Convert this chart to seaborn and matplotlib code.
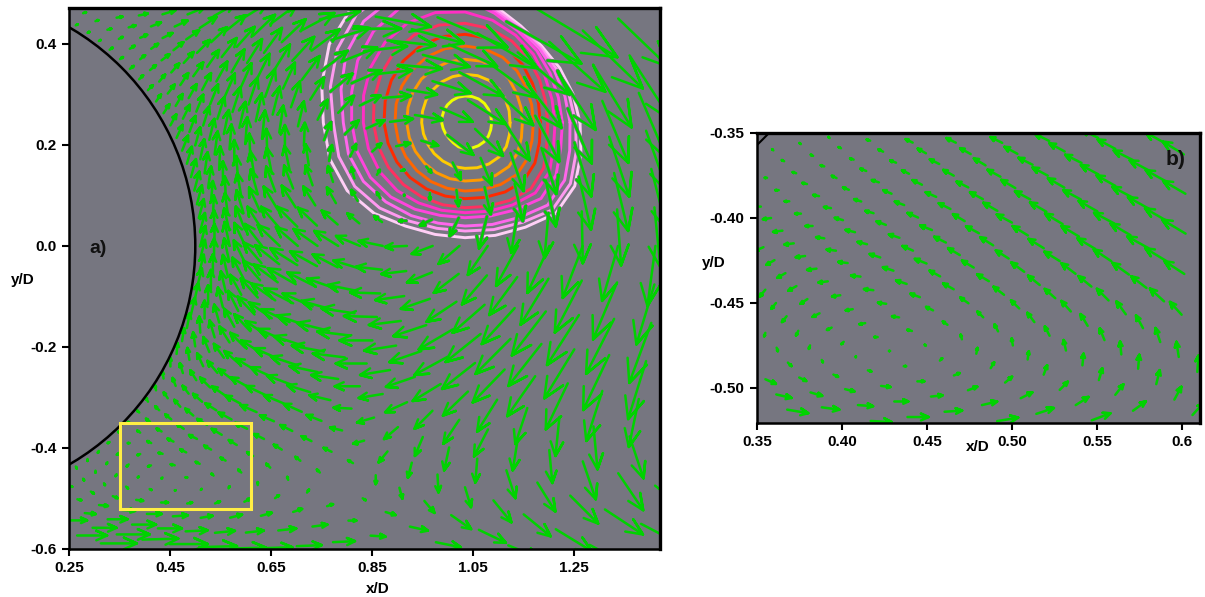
import matplotlib
matplotlib.use('Agg')
import matplotlib.pyplot as plt
import numpy as np
import pandas as pd
import seaborn as sns
from matplotlib.patches import Circle, Rectangle

# polar measurement grid of panel a
radii_a = [.51, .538, .568, .599, .632, .667, .703, .742, .783, .826, .871, .919, .97, 1.023, 1.079, 1.139, 1.201, 1.267, 1.337, 1.411, 1.488]
angles_a = [-65.1, -62, -58.9, -55.8, -52.7, -49.6, -46.5, -43.4, -40.3, -37.2, -34.1, -31, -27.9, -24.8, -21.7, -18.6, -15.5, -12.4, -9.3, -6.2, -3.1,
            0, 3.1, 6.2, 9.3, 12.4, 15.5, 18.6, 21.7, 24.8, 27.9, 31, 34.1, 37.2, 40.3, 43.4, 46.5, 49.6, 52.7, 55.8, 58.9]
first_a = [3, 1] + [0] * 39
# velocity per ray (u, v), one row per angle, arrow length in px
vel_a = [
    [(17, 0), (30, 0)],
    [(2, -1), (4, -1), (11, -1), (24, 0), (36, 0)],
    [(1, -2), (1, -2), (3, -2), (9, -1), (20, 0), (33, 0)],
    [(0, -2), (0, -2), (1, -2), (5, -2), (13, -1), (24, 0), (36, 1)],
    [(-1, -2), (-1, -2), (-1, -2), (2, -2), (7, -1), (15, 0), (24, 0), (38, 0)],
    [(-2, -1), (-2, -2), (-2, -2), (-1, -1), (2, -1), (7, 0), (15, 1), (22, 1), (38, 1)],
    [(-2, 1), (-2, 0), (-3, -1), (-3, -1), (-1, -1), (1, 0), (5, 1), (12, 2), (20, 2), (36, 1)],
    [(-2, 1), (-3, 2), (-4, 2), (-4, 1), (-4, 1), (-2, 0), (1, 1), (5, 2), (12, 3), (18, 2), (30, 1)],
    [(-2, 2), (-4, 3), (-5, 3), (-6, 3), (-6, 3), (-4, 2), (-2, 2), (1, 2), (6, 3), (11, 3), (18, 2), (25, 1)],
    [(-2, 4), (-4, 4), (-6, 5), (-7, 5), (-8, 4), (-7, 4), (-5, 3), (-3, 3), (0, 3), (4, 3), (9, 3), (15, 2), (22, 1)],
    [(-1, 5), (-4, 6), (-6, 7), (-8, 7), (-10, 6), (-10, 6), (-8, 5), (-6, 4), (-4, 4), (-1, 3), (2, 3), (6, 2), (8, 0), (15, -1)],
    [(-1, 7), (-3, 8), (-6, 8), (-9, 8), (-11, 7), (-13, 7), (-12, 6), (-10, 5), (-8, 5), (-5, 4), (-3, 3), (0, 0), (3, -2), (10, -3), (18, -4), (25, -5)],
    [(0, 9), (-3, 10), (-6, 10), (-10, 10), (-13, 9), (-15, 8), (-16, 7), (-14, 6), (-12, 6), (-10, 5), (-8, 4), (-5, 3), (0, -9), (3, -11), (10, -12), (20, -14), (27, -13), (32, -13)],
    [(1, 11), (-2, 12), (-6, 13), (-10, 12), (-14, 11), (-18, 10), (-19, 9), (-19, 8), (-18, 8), (-15, 6), (-12, 3), (-11, -3), (-9, -11), (-4, -15), (1, -18), (6, -20), (18, -22), (27, -22), (36, -22), (40, -22)],
    [(2, 13), (-2, 14), (-6, 15), (-10, 14), (-15, 13), (-20, 12), (-22, 10), (-24, 9), (-23, 7), (-21, 5), (-18, 1), (-17, -5), (-14, -12), (-8, -19), (-5, -23), (-2, -24), (9, -28), (18, -29), (28, -28), (38, -25), (42, -22)],
    [(3, 15), (-1, 16), (-5, 17), (-10, 16), (-15, 15), (-21, 13), (-25, 11), (-27, 9), (-28, 6), (-27, 4), (-25, 0), (-24, -4), (-22, -10), (-18, -18), (-16, -24), (-14, -27), (-5, -31), (3, -33), (13, -38), (25, -37), (38, -30)],
    [(4, 17), (0, 18), (-5, 18), (-10, 18), (-16, 17), (-22, 15), (-27, 12), (-30, 10), (-32, 6), (-32, 4), (-31, 0), (-30, -5), (-29, -10), (-28, -17), (-25, -24), (-20, -32), (-12, -36), (-4, -39), (4, -43), (14, -42)],
    [(4, 18), (0, 19), (-5, 20), (-10, 20), (-17, 18), (-23, 16), (-28, 13), (-32, 11), (-32, 8), (-33, 4), (-33, 0), (-32, -5), (-32, -11), (-33, -18), (-33, -26), (-32, -33), (-28, -40), (-22, -46), (-16, -50), (-10, -48)],
    [(5, 19), (0, 20), (-5, 21), (-11, 20), (-17, 19), (-24, 17), (-29, 15), (-30, 13), (-32, 9), (-33, 5), (-33, 1), (-32, -4), (-33, -11), (-34, -20), (-35, -28), (-35, -35), (-33, -42), (-30, -49), (-26, -55), (-18, -58)],
    [(5, 19), (0, 21), (-5, 22), (-11, 21), (-17, 20), (-24, 18), (-28, 16), (-28, 14), (-29, 10), (-30, 6), (-30, 1), (-29, -4), (-29, -10), (-30, -20), (-32, -28), (-33, -36), (-34, -44), (-32, -50), (-28, -55), (-22, -60)],
    [(5, 20), (0, 22), (-5, 23), (-11, 22), (-18, 21), (-24, 19), (-27, 17), (-27, 15), (-25, 13), (-26, 8), (-26, 3), (-25, -3), (-25, -10), (-25, -19), (-25, -29), (-28, -38), (-28, -46), (-27, -52), (-24, -57), (-18, -60)],
    [(5, 20), (0, 22), (-5, 24), (-11, 23), (-17, 22), (-22, 21), (-22, 19), (-24, 17), (-24, 15), (-24, 10), (-24, 5), (-22, -1), (-21, -8), (-21, -18), (-20, -29), (-22, -40), (-22, -47), (-20, -52), (-16, -55), (-8, -60)],
    [(5, 19), (0, 21), (-5, 22), (-9, 23), (-14, 22), (-18, 21), (-20, 20), (-19, 18), (-16, 14), (-12, 10), (-8, 6), (-7, 0), (-12, -6), (-9, -18), (-8, -32), (-6, -38), (-4, -45), (1, -52), (4, -56), (6, -60)],
    [(5, 19), (1, 21), (-3, 22), (-7, 23), (-11, 24), (-14, 23), (-14, 22), (-12, 19), (-9, 16), (-6, 11), (-3, 6), (0, 1), (0, -7), (2, -16), (6, -27), (8, -37), (10, -46), (12, -53), (14, -58), (16, -62)],
    [(5, 19), (2, 21), (-1, 23), (-4, 24), (-7, 25), (-9, 25), (-9, 23), (-7, 20), (-5, 16), (-3, 11), (3, 5), (4, 1), (5, -6), (8, -17), (11, -27), (13, -38), (15, -46), (17, -54), (20, -60), (22, -62)],
    [(5, 19), (3, 21), (0, 23), (-2, 25), (-4, 26), (-5, 26), (-5, 24), (-3, 21), (3, 16), (6, 12), (9, 8), (14, 3), (17, -5), (26, -20), (28, -27), (25, -38), (24, -46), (24, -55), (26, -62), (28, -66)],
    [(5, 18), (3, 21), (1, 23), (0, 25), (-1, 27), (-1, 27), (0, 26), (1, 23), (7, 18), (14, 14), (18, 8), (23, 3), (28, -5), (32, -14), (38, -24), (36, -33), (34, -44), (36, -55), (38, -62), (42, -65)],
    [(5, 17), (4, 20), (3, 23), (2, 25), (2, 27), (3, 28), (4, 27), (6, 25), (10, 20), (16, 17), (21, 10), (28, 2), (30, -5), (38, -12), (44, -24), (48, -35), (52, -42), (56, -50), (60, -58), (50, -48)],
    [(6, 15), (5, 18), (5, 21), (5, 24), (6, 26), (6, 28), (7, 28), (9, 26), (14, 22), (22, 18), (30, 13), (38, 4), (44, -4), (47, -12), (48, -22), (60, -35), (75, -42), (80, -48)],
    [(6, 13), (6, 16), (6, 19), (7, 22), (8, 25), (9, 27), (10, 28), (12, 26), (18, 24), (26, 20), (35, 14), (43, 5), (48, -5), (52, -14), (70, -30)],
    [(6, 11), (7, 14), (7, 17), (8, 20), (10, 23), (11, 25), (13, 26), (16, 26), (22, 24), (28, 21), (38, 12), (48, 0), (55, -10)],
    [(6, 9), (7, 12), (8, 14), (9, 17), (11, 20), (13, 23), (15, 24), (18, 25), (24, 23), (34, 18), (40, 8), (46, 2)],
    [(5, 7), (7, 9), (8, 12), (10, 14), (12, 17), (15, 19), (18, 20), (22, 21), (27, 20), (33, 18)],
    [(5, 5), (6, 7), (8, 9), (10, 11), (13, 13), (16, 15), (20, 16), (26, 16), (32, 15)],
    [(4, 4), (6, 5), (8, 6), (10, 8), (13, 9), (17, 11), (21, 12)],
    [(4, 3), (5, 4), (7, 5), (10, 5), (13, 6), (17, 7)],
    [(3, 2), (5, 3), (7, 3), (10, 4), (13, 4)],
    [(3, 2), (4, 2), (7, 2), (9, 2)],
    [(2, 1), (4, 1), (6, 1)],
    [(2, 1), (3, 1), (5, 1)],
    [(2, 1), (3, 1)],
]

# panel b is the full resolution grid of the yellow box
radii_b = [.509, .518, .528, .537, .547, .557, .567, .577, .587, .598, .609, .62, .631, .642, .654, .666, .678, .69, .702, .715, .728, .741, .754, .768, .782, .796]
angles_b = [-54.35, -52.8, -51.25, -49.7, -48.15, -46.6, -45.05, -43.5, -41.95, -40.4, -38.85, -37.3, -35.75, -34.2, -32.65, -31.1]
first_b = [10, 8, 6, 4, 2, 0, 0, 1, 2, 4, 6, 8, 10, 12, 14, 16]
vel_b = [
    [(9, -4), (13, -3), (18, -3)],
    [(-1, -3), (1, -3), (3, -3), (6, -3), (10, -3), (15, -2), (20, -2)],
    [(-5, -6), (-4, -5), (-4, -5), (-2, -4), (-1, -3), (1, -2), (4, -2), (8, -2), (13, -1), (18, -1)],
    [(-7, -3), (-7, -4), (-7, -4), (-7, -4), (-6, -4), (-6, -3), (-4, -2), (-2, -2), (0, -1), (3, -1), (8, -1), (12, 0), (18, 0)],
    [(-6, 0), (-7, -1), (-8, -1), (-8, -1), (-8, -1), (-8, -1), (-8, -1), (-7, -1), (-6, -1), (-5, -1), (-3, 0), (-1, 0), (2, 0), (6, 0), (10, 1), (15, 1)],
    [(-2, 1), (-2, 0), (-3, 0), (-4, 0), (-5, 0), (-6, 0), (-7, 1), (-8, 1), (-8, 1), (-8, 1), (-8, 1), (-7, 1), (-6, 1), (-4, 1), (-1, 1), (2, 2), (5, 2), (8, 3), (13, 3), (18, 3)],
    [(-1, 1), (-2, 1), (-3, 1), (-4, 1), (-5, 1), (-6, 1), (-7, 2), (-8, 2), (-8, 2), (-9, 3), (-9, 3), (-9, 3), (-8, 3), (-6, 3), (-4, 3), (-1, 4), (1, 5), (3, 5), (6, 5), (10, 5), (15, 5)],
    [(-1, 1), (-2, 1), (-3, 1), (-4, 2), (-5, 2), (-6, 2), (-7, 2), (-8, 3), (-9, 3), (-9, 4), (-10, 4), (-9, 5), (-9, 5), (-7, 5), (-5, 5), (-3, 6), (-1, 6), (1, 7), (3, 8), (7, 7), (11, 7), (16, 6)],
    [(-1, 1), (-2, 1), (-3, 1), (-5, 2), (-6, 2), (-7, 3), (-8, 3), (-9, 4), (-10, 4), (-10, 5), (-10, 6), (-10, 6), (-10, 6), (-9, 7), (-7, 7), (-6, 8), (-4, 8), (-2, 9), (1, 10), (3, 10), (7, 9), (11, 8)],
    [(-3, 1), (-4, 2), (-5, 2), (-6, 3), (-8, 4), (-9, 4), (-10, 5), (-10, 6), (-11, 6), (-11, 7), (-11, 7), (-11, 8), (-10, 8), (-9, 8), (-8, 9), (-6, 10), (-4, 10), (-1, 11), (1, 12), (3, 12), (6, 11), (9, 10)],
    [(-6, 3), (-7, 4), (-8, 4), (-9, 5), (-10, 5), (-11, 6), (-12, 7), (-13, 7), (-13, 8), (-13, 8), (-13, 8), (-12, 9), (-11, 9), (-10, 10), (-8, 11), (-6, 11), (-4, 12), (-2, 13), (1, 14)],
    [(-8, 4), (-9, 5), (-10, 6), (-11, 6), (-12, 7), (-13, 7), (-14, 8), (-15, 9), (-15, 9), (-15, 9), (-15, 10), (-14, 10), (-13, 10), (-12, 11), (-10, 11), (-8, 12)],
    [(-10, 5), (-11, 6), (-12, 6), (-13, 7), (-14, 8), (-15, 8), (-16, 9), (-17, 9), (-17, 10), (-18, 10), (-18, 11), (-17, 11)],
    [(-12, 6), (-13, 7), (-14, 7), (-15, 8), (-16, 9), (-17, 9), (-18, 10), (-19, 11), (-20, 12)],
    [(-14, 7), (-15, 8), (-16, 8), (-17, 9), (-18, 10), (-19, 11)],
    [(-17, 9), (-18, 10), (-18, 11)],
]

# vorticity contours, radius around the core for every bearing
core = (1.034, 0.244)
bearings = list(range(0, 360, 15))
ring_unit = 1515.0
ring_colors = ['#FFCFF6', '#FF99F0', '#FF66EC', '#FF44DD', '#FF2FC4', '#FF3060', '#FF2A00', '#FF6600', '#FF9900', '#FFCC00', '#EEFF00']
rings = [
    [345, 335, 328, 325, 335, 360, 420, 455, 475, 484, 470, 445, 425, 420, 408, 385, 358, 347, 345, 350, 362, 385, 380, 360],
    [332, 323, 318, 320, 330, 352, 410, 440, 455, 460, 442, 418, 395, 392, 382, 362, 340, 328, 325, 332, 345, 370, 365, 345],
    [315, 310, 310, 315, 325, 345, 395, 420, 432, 430, 412, 385, 365, 362, 352, 336, 322, 312, 310, 316, 328, 350, 345, 325],
    [292, 290, 295, 305, 318, 340, 372, 390, 395, 388, 372, 352, 340, 335, 328, 315, 300, 288, 285, 290, 302, 322, 315, 297],
    [270, 270, 277, 290, 303, 318, 332, 342, 345, 340, 328, 315, 305, 300, 295, 288, 278, 272, 270, 275, 285, 298, 293, 275],
    [248, 250, 258, 270, 282, 292, 298, 303, 304, 300, 291, 282, 275, 270, 266, 262, 258, 255, 255, 260, 269, 280, 272, 254],
    [226, 228, 234, 245, 255, 262, 265, 267, 266, 262, 255, 248, 243, 239, 236, 233, 230, 228, 228, 232, 240, 248, 242, 231],
    [205, 207, 212, 220, 226, 229, 230, 230, 228, 224, 219, 214, 210, 207, 205, 204, 204, 204, 205, 208, 214, 220, 216, 208],
    [172, 174, 178, 186, 190, 191, 190, 189, 187, 185, 181, 177, 175, 173, 172, 172, 173, 174, 175, 178, 183, 186, 182, 175],
    [135, 137, 140, 144, 146, 146, 145, 143, 141, 138, 135, 132, 130, 129, 129, 131, 133, 136, 137, 140, 143, 145, 143, 138],
    [80, 80, 81, 82, 82, 81, 80, 79, 77, 75, 73, 71, 70, 68, 67, 67, 70, 75, 78, 79, 80, 81, 81, 80],
]

xticks_a = [0.25, 0.45, 0.65, 0.85, 1.05, 1.25]
yticks_a = [0.4, 0.2, 0.0, -0.2, -0.4, -0.6]
xticks_b = [0.35, 0.40, 0.45, 0.50, 0.55, 0.60]
xlabels_b = ['0.35', '0.40', '0.45', '0.50', '0.55', '0.6']
yticks_b = [-0.35, -0.40, -0.45, -0.50]
box = (0.35, 0.61, -0.52, -0.35)

GREY = '#767680'
GREEN = '#00D200'
W, H = 1205, 597


def arrow_table(radii, angles, first, vel, px_per_d, xlim, ylim):
    """Open headed arrows as short paths, one unit per arrow"""
    rows = []
    n = 0
    for ang, start, ray in zip(angles, first, vel):
        t = np.radians(ang)
        for k, (u, v) in enumerate(ray):
            r = radii[start + k]
            x0, y0 = r * np.cos(t), r * np.sin(t)
            if not (xlim[0] <= x0 <= xlim[1] and ylim[0] <= y0 <= ylim[1]):
                continue
            d = np.array([u, v]) / px_per_d
            tip = np.array([x0, y0]) + d
            side = np.array([-d[1], d[0]])
            left = tip - 0.36 * d + 0.16 * side
            right = tip - 0.36 * d - 0.16 * side
            for px, py in [(x0, y0), tip, left, tip, right]:
                rows.append((px, py, n))
            n += 1
    return pd.DataFrame(rows, columns=['x', 'y', 'arrow'])


def finish(ax, xticks, xlabels, yticks, ylabels, xlim, ylim, xpos, ypos):
    ax.set_xlim(xlim)
    ax.set_ylim(ylim)
    ax.set_facecolor(GREY)
    ax.set_xticks(xticks, xlabels)
    ax.set_yticks(yticks, ylabels)
    ax.tick_params(length=5, width=1.5, pad=4, labelsize=11, color='black', labelcolor='black')
    ax.set_xlabel('x/D', fontsize=11, fontweight='bold', va='center', color='black')
    ax.set_ylabel('y/D', fontsize=11, fontweight='bold', rotation=0, va='center', ha='center', color='black')
    ax.xaxis.set_label_coords(*xpos)
    ax.yaxis.set_label_coords(*ypos)
    for name, spine in ax.spines.items():
        spine.set_visible(True)
        spine.set_linewidth(2.4 if name in ('top', 'right') else 1.8)
        spine.set_color('black')
        spine.set_zorder(10)
    for lab in ax.get_xticklabels() + ax.get_yticklabels():
        lab.set_fontweight('bold')


sns.set_style('ticks')
plt.rcParams['font.family'] = ['Liberation Sans', 'DejaVu Sans']

fig = plt.figure(figsize=(W / 100, H / 100), dpi=100)
ax_a = fig.add_axes([69 / W, 1 - 549 / H, 591 / W, 541 / H])
ax_b = fig.add_axes([757 / W, 1 - 423 / H, 443 / W, 290 / H])
xlim_a, ylim_a = (0.25, 1.42), (-0.6, 0.471)
xlim_b, ylim_b = (0.35, 0.6106), (-0.5206, -0.35)

# panel a
for col, ring in zip(ring_colors, rings):
    b = np.radians(bearings + [360])
    rad = np.array(ring + ring[:1]) / ring_unit
    line = pd.DataFrame({'x': core[0] + rad * np.cos(b), 'y': core[1] + rad * np.sin(b)})
    sns.lineplot(data=line, x='x', y='y', sort=False, estimator=None, color=col, lw=2.1, ax=ax_a)

arrows_a = arrow_table(radii_a, angles_a, first_a, vel_a, 505.0, xlim_a, ylim_a)
# grey pass first, the contours break around the arrows
sns.lineplot(data=arrows_a, x='x', y='y', units='arrow', estimator=None, sort=False, color=GREY, lw=2.8, ax=ax_a)
sns.lineplot(data=arrows_a, x='x', y='y', units='arrow', estimator=None, sort=False, color=GREEN, lw=1.8, ax=ax_a)
ax_a.add_patch(Circle((0, 0), 0.5, fill=False, ec='black', lw=1.8, zorder=5))
ax_a.add_patch(Rectangle((box[0], box[2]), box[1] - box[0], box[3] - box[2], fill=False, ec='#FFEE44', lw=2.2, zorder=6))
ax_a.text(0.29, -0.005, 'a)', fontsize=14, fontweight='bold', ha='left', va='center', color='#111111')
finish(ax_a, xticks_a, [f'{t:.2f}' for t in xticks_a], yticks_a, [f'{t:.1f}' for t in yticks_a], xlim_a, ylim_a,
       (0.523, -0.074), (-0.078, 0.497))

# panel b
arrows_b = arrow_table(radii_b, angles_b, first_b, vel_b, 1450.0, xlim_b, ylim_b)
sns.lineplot(data=arrows_b, x='x', y='y', units='arrow', estimator=None, sort=False, color=GREEN, lw=1.8, ax=ax_b)
ax_b.add_patch(Circle((0, 0), 0.5, fill=False, ec='black', lw=1.5, zorder=5))
ax_b.text(0.5905, -0.3655, 'b)', fontsize=15, fontweight='bold', ha='left', va='center', color='#111111')
finish(ax_b, xticks_b, xlabels_b, yticks_b, [f'{t:.2f}' for t in yticks_b], xlim_b, ylim_b,
       (0.499, -0.083), (-0.097, 0.552))

fig.savefig('out.png', dpi=100)
